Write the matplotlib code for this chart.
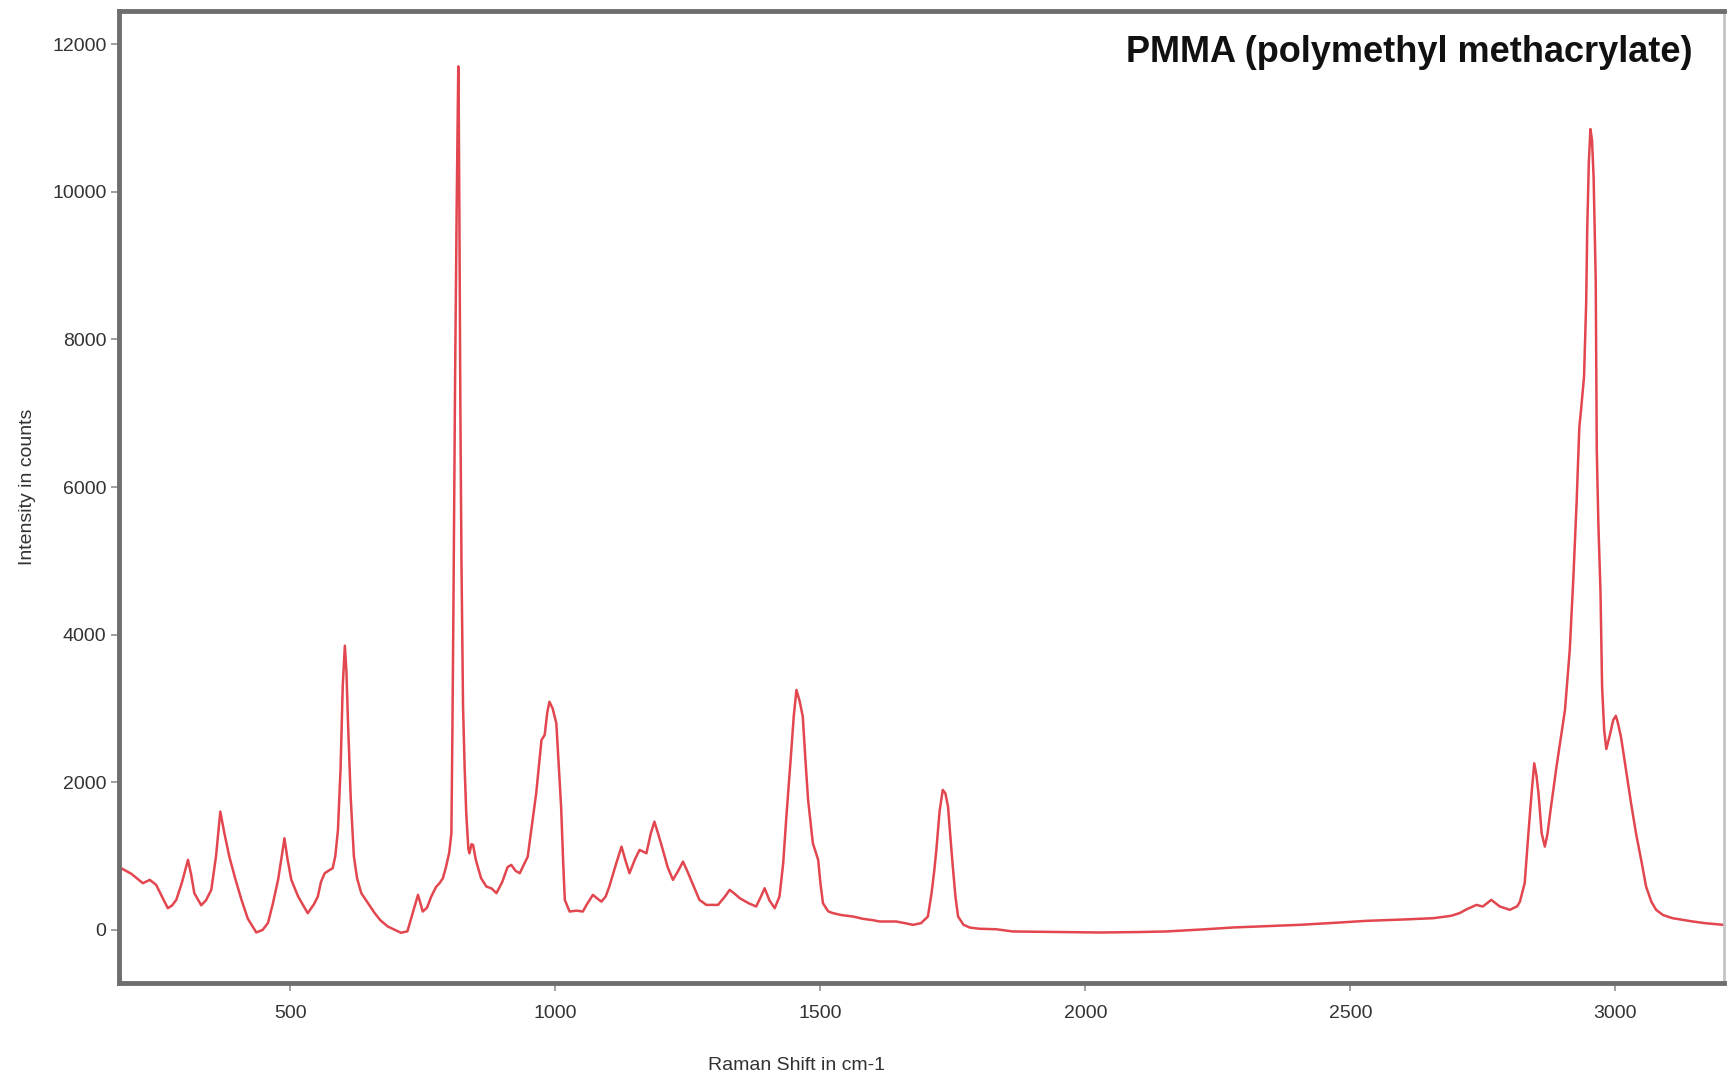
import matplotlib
matplotlib.use("Agg")
import matplotlib.pyplot as plt

# Raman spectrum of PMMA
raman_shift = [
    177, 181, 200, 222, 235, 247, 258, 269, 277, 285, 296, 307, 313, 319, 332, 341, 351, 360, 368, 376,
    385, 396, 408, 420, 436, 448, 458, 467, 477, 484, 489, 495, 502, 515, 533, 545, 552, 558, 565, 572,
    580, 585, 590, 595, 599, 603, 606, 609, 614, 620, 626, 634, 645, 659, 670, 684, 700, 709, 715, 721,
    730, 741, 750, 758, 766, 775, 782, 788, 794, 800, 804, 806, 808, 811, 814, 816, 817, 818, 819, 821,
    823, 826, 829, 832, 836, 838, 842, 845, 850, 860, 870, 880, 889, 900, 910, 917, 925, 933, 948, 964,
    974, 980, 985, 989, 995, 1002, 1006, 1011, 1015, 1018, 1027, 1040, 1052, 1060, 1071, 1080, 1087, 1095, 1102, 1115,
    1125, 1132, 1140, 1150, 1159, 1172, 1180, 1187, 1195, 1203, 1212, 1222, 1232, 1241, 1250, 1260, 1272, 1285, 1307, 1320,
    1329, 1340, 1348, 1365, 1379, 1388, 1395, 1404, 1414, 1423, 1430, 1436, 1444, 1450, 1455, 1461, 1467, 1472, 1477, 1486,
    1496, 1500, 1505, 1515, 1524, 1540, 1562, 1580, 1600, 1612, 1643, 1660, 1675, 1690, 1703, 1710, 1715, 1719, 1725, 1731,
    1736, 1741, 1745, 1750, 1755, 1760, 1770, 1782, 1800, 1832, 1863, 1950, 2027, 2100, 2153, 2220, 2279, 2340, 2405, 2470,
    2531, 2600, 2657, 2690, 2706, 2720, 2738, 2750, 2766, 2782, 2801, 2815, 2820, 2829, 2836, 2842, 2847, 2851, 2855, 2861,
    2867, 2872, 2877, 2889, 2905, 2914, 2921, 2927, 2932, 2936, 2941, 2945, 2947, 2950, 2953, 2956, 2959, 2963, 2965, 2968,
    2972, 2975, 2979, 2983, 2990, 2996, 3001, 3005, 3011, 3021, 3030, 3039, 3050, 3058, 3068, 3077, 3090, 3108, 3146, 3170,
    3203,
]
intensity = [
    850, 835, 760, 632, 677, 609, 450, 293, 330, 406, 650, 948, 750, 497, 333, 400, 542, 1000, 1602, 1300,
    992, 700, 406, 150, -36, 0, 94, 350, 677, 1000, 1241, 950, 677, 450, 226, 350, 451, 650, 767, 800,
    835, 1000, 1354, 2200, 3300, 3850, 3500, 2800, 1800, 1000, 700, 497, 380, 230, 130, 45, -10, -40, -30, -20,
    200, 474, 248, 300, 451, 580, 636, 700, 857, 1050, 1309, 2753, 4500, 7500, 9800, 11000, 11700, 11000, 9800, 7000,
    5000, 3023, 2200, 1584, 1100, 1037, 1160, 1151, 950, 700, 587, 560, 497, 650, 850, 880, 800, 767, 992, 1850,
    2572, 2640, 2950, 3091, 3000, 2798, 2300, 1670, 900, 406, 248, 260, 248, 350, 474, 420, 383, 450, 587, 900,
    1128, 950, 767, 950, 1083, 1038, 1300, 1466, 1280, 1083, 850, 677, 800, 925, 780, 609, 406, 338, 338, 450,
    542, 480, 429, 360, 316, 450, 564, 400, 293, 451, 900, 1534, 2300, 2900, 3250, 3100, 2888, 2300, 1760, 1173,
    948, 650, 361, 250, 226, 200, 180, 150, 130, 113, 113, 90, 68, 90, 180, 500, 800, 1083, 1600, 1896,
    1850, 1670, 1300, 857, 450, 180, 70, 31, 15, 8, -22, -30, -36, -30, -22, 5, 32, 50, 68, 95,
    122, 140, 158, 190, 226, 280, 338, 316, 406, 316, 271, 320, 383, 632, 1309, 1850, 2256, 2100, 1850, 1309,
    1128, 1300, 1580, 2211, 2979, 3791, 4800, 5800, 6800, 7100, 7500, 8500, 9500, 10400, 10850, 10700, 10200, 8800, 6500, 5500,
    4582, 3300, 2700, 2450, 2650, 2843, 2900, 2798, 2600, 2121, 1700, 1309, 900, 587, 380, 271, 200, 158, 113, 90,
    68,
]

x_ticks = [500, 1000, 1500, 2000, 2500, 3000]
y_ticks = [0, 2000, 4000, 6000, 8000, 10000, 12000]
title_text = "PMMA (polymethyl methacrylate)"
x_label = "Raman Shift in cm-1"
y_label = "Intensity in counts"

fam = ["Liberation Sans Narrow", "Liberation Sans", "DejaVu Sans"]
plt.rcParams["font.family"] = fam

fig = plt.figure(figsize=(17.33, 10.77), dpi=100)
ax = fig.add_axes([0.0687, 0.0873, 0.9948 - 0.0687, 0.9898 - 0.0873])

ax.plot(raman_shift, intensity, color="#e2464f", lw=1.8, solid_joinstyle="round")

ax.set_xlim(177, 3205)
ax.set_ylim(-720, 12450)
ax.set_xticks(x_ticks)
ax.set_yticks(y_ticks)
ax.tick_params(axis="both", direction="out", length=6, width=1.2, color="#909090",
               labelsize=14, labelcolor="#333333")
ax.tick_params(axis="x", pad=10)
ax.tick_params(axis="y", pad=3)

for side in ["left", "bottom", "top"]:
    ax.spines[side].set_color("#6e6e6e")
    ax.spines[side].set_linewidth(3.5)
ax.spines["right"].set_color("#c4c4c4")
ax.spines["right"].set_linewidth(2.0)

ax.text(0.9805, 0.957, title_text, transform=ax.transAxes, ha="right", va="center",
        fontsize=26, fontweight="bold", color="#111111")

fig.text(0.4595, 0.003, x_label, ha="center", va="bottom", fontsize=14, color="#333333")
fig.text(0.011, 0.548, y_label, ha="left", va="center", rotation=90, fontsize=14, color="#333333")

fig.savefig("out.png", dpi=100, facecolor="white")
